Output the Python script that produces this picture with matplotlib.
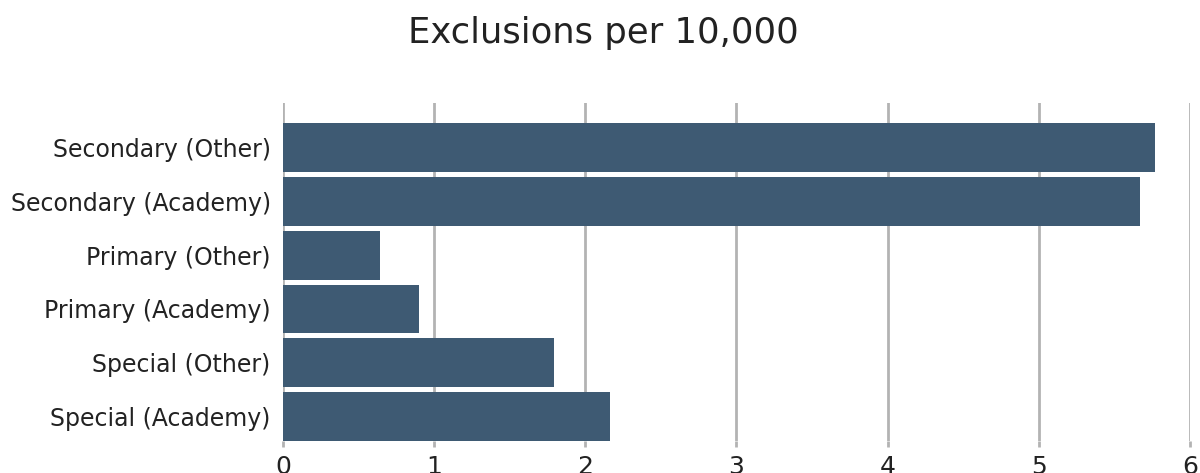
import matplotlib
matplotlib.use("Agg")
import matplotlib.pyplot as plt

categories = ["Secondary (Other)", "Secondary (Academy)", "Primary (Other)",
              "Primary (Academy)", "Special (Other)", "Special (Academy)"]
values = [5.77, 5.67, 0.64, 0.90, 1.79, 2.16]
xticks = [0, 1, 2, 3, 4, 5, 6]
title = "Exclusions per 10,000"

plt.rcParams['font.family'] = ['DejaVu Sans']

fig = plt.figure(figsize=(12, 4.73), dpi=100)
ax = fig.add_axes([0.236, 0.0677, 0.7555, 0.7145])

n = len(categories)
ypos = list(range(n))[::-1]
ax.barh(ypos, values, height=0.91, color="#3e5a73", zorder=2)

ax.set_xlim(0, 6)
ax.set_ylim(-0.455, n - 1 + 0.83)
ax.set_xticks(xticks)
ax.set_xticklabels([str(t) for t in xticks], fontsize=18, color="#222222")
ax.set_yticks(ypos)
ax.set_yticklabels(categories, fontsize=17, color="#222222")
ax.tick_params(axis='y', length=0, pad=9)
ax.tick_params(axis='x', length=4, color="#b3b3b3", width=2, pad=6)
ax.xaxis.grid(True, color="#b3b3b3", linewidth=2, zorder=0)
for s in ax.spines.values():
    s.set_visible(False)

fig.text(0.503, 0.93, title, ha='center', va='center', fontsize=25.5, color="#222222")

fig.savefig("out.png", dpi=100)
